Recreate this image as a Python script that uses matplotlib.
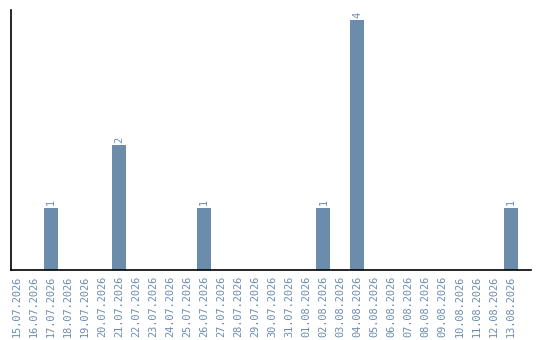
import datetime as dt
import matplotlib
matplotlib.use("Agg")
import matplotlib.pyplot as plt

start = dt.date(2026, 7, 15)
dates = [(start + dt.timedelta(days=i)).strftime("%d.%m.%Y") for i in range(30)]
counts = [0, 0, 1, 0, 0, 0, 2, 0, 0, 0, 0, 1, 0, 0, 0, 0, 0, 0, 1, 0,
          4, 0, 0, 0, 0, 0, 0, 0, 0, 1]

bar_color = "#6b8cab"
text_color = "#6a8caf"

fig = plt.figure(figsize=(5.4, 3.4), dpi=100)
ax = fig.add_axes([11 / 540, 70 / 340, 520 / 540, 260 / 340])

x = list(range(len(dates)))
ax.bar(x, counts, width=0.82, color=bar_color)
for xi, c in zip(x, counts):
    if c > 0:
        ax.text(xi, c + 0.035, str(c), rotation=90, ha="center", va="bottom",
                color=text_color, fontsize=7.4, family="DejaVu Sans Mono")

ax.set_xlim(-0.35, 30.2)
ax.set_ylim(0, 4.16)
ax.set_xticks(x)
ax.set_xticklabels(dates, rotation=90, color=text_color, fontsize=7.4,
                   family="DejaVu Sans Mono")
ax.tick_params(axis="x", length=0, pad=4)
ax.set_yticks([])
for s in ("top", "right"):
    ax.spines[s].set_visible(False)
for s in ("left", "bottom"):
    ax.spines[s].set_linewidth(1.2)
    ax.spines[s].set_color("black")

fig.savefig("out.png", dpi=100)
